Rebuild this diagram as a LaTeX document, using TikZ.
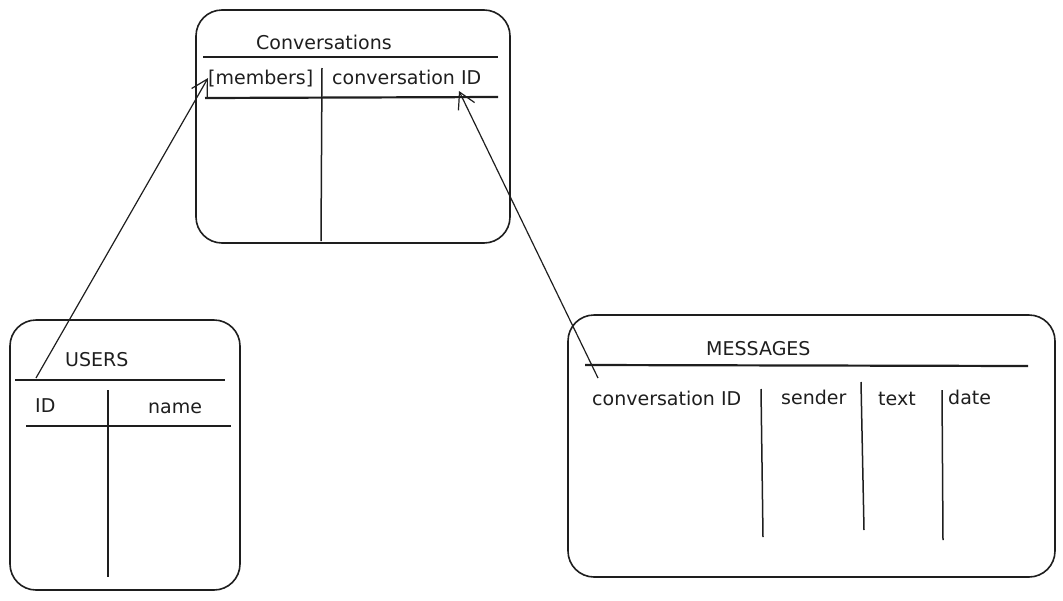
\documentclass[tikz,border=0pt]{standalone}
\usepackage{fontspec}
\setmainfont{DejaVu Sans}
\usetikzlibrary{arrows.meta}
\definecolor{cink}{HTML}{1e1e1e}

\begin{document}
\begin{tikzpicture}[x=1pt,y=-1pt,
  tablebox/.style={draw=cink,line width=1.6pt,rounded corners=26pt,inner sep=0pt},
  rule/.style={draw=cink,line width=2.2pt},
  colline/.style={draw=cink,line width=1.5pt},
  lbl/.style={anchor=base west,inner sep=0pt,font=\fontsize{19}{22}\selectfont,text=cink},
  link/.style={draw=cink,line width=1.2pt,-{Straight Barb[length=16pt,width=18pt]}}]
  \useasboundingbox (0,0) rectangle (1063,600);
  % Conversations
  \node[tablebox,minimum width=314pt,minimum height=233pt] (conv) at (353,126.5) {};
  \node[lbl] (convtitle) at (256,49) {Conversations};
  \draw[rule] (203,57) -- (498,57);
  \draw[colline] (322,68) -- (321,241);
  \node[lbl] (members) at (208,84) {[members]};
  \node[lbl] (convid) at (332,84) {conversation ID};
  \draw[rule] (205,98) -- (498,97);
  \coordinate (cidref) at (459,91);
  % Users
  \node[tablebox,minimum width=230pt,minimum height=270pt] (users) at (125,455) {};
  \node[lbl] (usertitle) at (65,366) {USERS};
  \draw[rule] (15,380) -- (225,380);
  \node[lbl] (uid) at (35,412) {ID};
  \node[lbl] (uname) at (148,413) {name};
  \draw[rule] (26,426) -- (231,426);
  \draw[colline] (108,390) -- (108,577);
  \coordinate (usrsrc) at (36,378);
  % Messages
  \node[tablebox,minimum width=487pt,minimum height=262pt] (msgs) at (811.5,446) {};
  \node[lbl] (msgtitle) at (706,355) {MESSAGES};
  \draw[rule] (585,365) -- (1028,366);
  \node[lbl] (mcid) at (592,405) {conversation ID};
  \node[lbl] (msender) at (781,404) {sender};
  \node[lbl] (mtext) at (878,405) {text};
  \node[lbl] (mdate) at (948,404) {date};
  \draw[colline] (761,389) -- (763,537);
  \draw[colline] (861,382) -- (864,530);
  \draw[colline] (942,390) -- (943,540);
  \coordinate (msgsrc) at (598,378);
  % links
  \draw[link] (usrsrc) -- (members.west);
  \draw[link] (msgsrc) -- (cidref);
\end{tikzpicture}
\end{document}
